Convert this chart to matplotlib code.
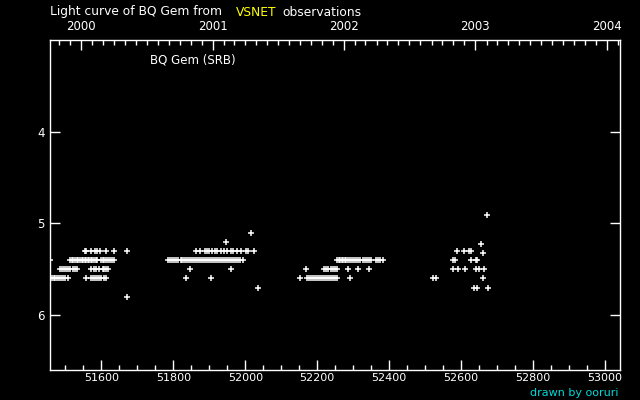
import datetime
import numpy as np
import matplotlib.pyplot as plt

# observations: MJD (JD-2400000) and visual magnitude
mjd_53 = [51553, 51556, 51571, 51582, 51588, 51597, 51613, 51636, 51672,
          51864, 51875, 51889, 51894, 51900, 51908, 51917, 51922, 51933, 51942,
          51950, 51961, 51967, 51978, 51989, 52003, 52008, 52025,
          52589, 52608, 52622, 52628]
mjd_54 = [51458, 51514, 51518, 51522, 51527, 51531, 51535, 51540, 51545, 51549,
          51553, 51558, 51562, 51566, 51571, 51575, 51580, 51586, 51589,
          51600, 51604, 51608, 51614, 51619, 51625, 51630, 51636,
          51786, 51792, 51797, 51803, 51808, 51814, 51820, 51825, 51831, 51836,
          51842, 51847, 51853, 51858, 51864, 51869, 51875, 51880, 51886, 51892,
          51897, 51903, 51908, 51914, 51919, 51925, 51931, 51936, 51942, 51947,
          51953, 51958, 51964, 51969, 51975, 51981, 51986, 51994,
          52256, 52260, 52264, 52268, 52272, 52276, 52281, 52286, 52291, 52296,
          52302, 52308, 52314, 52320, 52326, 52332, 52338, 52344, 52350,
          52364, 52369, 52375, 52383,
          52579, 52582, 52628, 52642, 52645]
mjd_55 = [51486, 51491, 51497, 51502, 51508, 51514, 51520, 51527, 51533,
          51572, 51578, 51585, 51594, 51603, 51608, 51614, 51619,
          51847, 51961,
          52169, 52219, 52225, 52231, 52237, 52243, 52250, 52256, 52286, 52314, 52344,
          52578, 52592, 52611, 52642, 52650, 52664]
mjd_56 = [51458, 51462, 51467, 51472, 51477, 51483, 51488, 51494, 51500, 51508,
          51558, 51572, 51577, 51582, 51588, 51594, 51600, 51606, 51614,
          51836, 51906,
          52153, 52172, 52178, 52183, 52189, 52194, 52200, 52206, 52211, 52217,
          52222, 52228, 52233, 52239, 52245, 52250, 52256, 52292,
          52522, 52531, 52661]
mjd_57 = [52036, 52636, 52644, 52675]
mjd_other = [51672, 51947, 52017, 52656, 52661, 52672]
mag_other = [5.8, 5.2, 5.1, 5.23, 5.32, 4.91]

year_ticks = [2000, 2001, 2002, 2003, 2004]
mjd_ticks = [51600, 51800, 52000, 52200, 52400, 52600, 52800, 53000]


def to_mjd(d):
    return (d - datetime.date(1858, 11, 17)).days


x = np.concatenate([mjd_53, mjd_54, mjd_55, mjd_56, mjd_57, mjd_other])
y = np.concatenate([[5.3] * len(mjd_53), [5.4] * len(mjd_54), [5.5] * len(mjd_55),
                    [5.6] * len(mjd_56), [5.7] * len(mjd_57), mag_other])

fig = plt.figure(figsize=(6.4, 4.0), dpi=100, facecolor='black')
ax = fig.add_axes([50 / 640, 30 / 400, 570 / 640, 330 / 400], facecolor='black')

ax.plot(x, y, '+', color='white', markersize=3.8, markeredgewidth=1.1)

ax.set_xlim(51457, 53042)
ax.set_ylim(6.6, 3.0)

for s in ax.spines.values():
    s.set_color('white')
    s.set_linewidth(1)

ax.set_xticks(mjd_ticks)
ax.set_xticks(np.arange(51500, 53050, 50), minor=True)
ax.set_yticks([4, 5, 6])
ax.tick_params(axis='x', which='major', direction='in', length=7, width=1,
               colors='white', labelsize=8, pad=2)
ax.tick_params(axis='x', which='minor', direction='in', length=3.5, width=1, colors='white')
ax.tick_params(axis='y', which='major', direction='in', length=7, width=1,
               colors='white', labelsize=8.5, pad=4, right=True)

# year axis on top
top = ax.twiny()
top.set_xlim(ax.get_xlim())
top.set_xticks([to_mjd(datetime.date(yr, 1, 1)) for yr in year_ticks])
top.set_xticklabels([str(yr) for yr in year_ticks])
months = [to_mjd(datetime.date(yr, m, 1)) for yr in range(1999, 2005) for m in range(1, 13)]
top.set_xticks([m for m in months if 51457 <= m <= 53042], minor=True)
top.tick_params(axis='x', which='major', direction='in', length=7, width=1,
                colors='white', labelsize=8.5, pad=5)
top.tick_params(axis='x', which='minor', direction='in', length=3.5, width=1, colors='white')
for s in top.spines.values():
    s.set_visible(False)

fig.text(50 / 640, 1 - 12 / 400, 'Light curve of BQ Gem from', color='white',
         fontsize=8.8, va='center', ha='left')
fig.text(236 / 640, 1 - 12 / 400, 'VSNET', color='yellow', fontsize=8.8, va='center', ha='left')
fig.text(282 / 640, 1 - 12 / 400, 'observations', color='white', fontsize=8.8,
         va='center', ha='left')
fig.text(150 / 640, 1 - 60 / 400, 'BQ Gem (SRB)', color='white', fontsize=8.5,
         va='center', ha='left')
fig.text(618 / 640, 1 - 393 / 400, 'drawn by ooruri', color='#00d8d8', fontsize=8,
         va='center', ha='right')

fig.savefig('out.png', dpi=100, facecolor='black')
plt.close(fig)
